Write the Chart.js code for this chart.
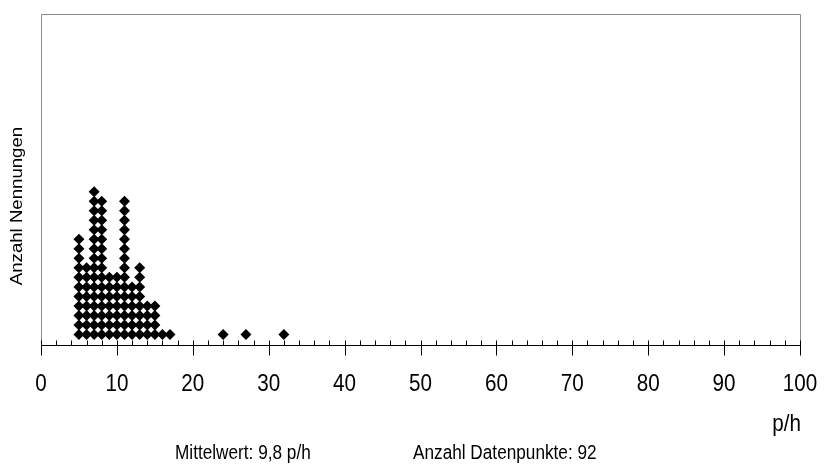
<!DOCTYPE html>
<html>
<head>
<meta charset="utf-8">
<script src="https://cdn.jsdelivr.net/npm/chart.js@4.4.1/dist/chart.umd.min.js"></script>
<style>
  html, body { margin: 0; padding: 0; background: #ffffff; }
  #wrap { width: 827px; height: 464px; }
</style>
</head>
<body>
<div id="wrap"><canvas id="chart" width="827" height="464"></canvas></div>
<script>
// Rate categories (p/h) and how many answers fall into each one
const rateValues    = [5, 6, 7, 8, 9, 10, 11, 12, 13, 14, 15, 16, 17, 24, 27, 32];
const mentionCounts = [11, 8, 16, 15, 7, 7, 15, 6, 8, 4, 4, 1, 1, 1, 1, 1];

// Labelled ticks on the rate axis
const xTickLabels = [0, 10, 20, 30, 40, 50, 60, 70, 80, 90, 100];

// Texts
const yAxisTitle   = 'Anzahl Nennungen';
const xAxisUnit    = 'p/h';
const meanText     = 'Mittelwert: 9,8 p/h';
const countText    = 'Anzahl Datenpunkte: 92';

const FONT = '"Liberation Sans", Arial, sans-serif';
const NARROW = 0.86;   // glyph width factor for the condensed lettering

// One stacked diamond per answer: y = position in the stack
const stackedPoints = [];
rateValues.forEach((rate, i) => {
  for (let k = 1; k <= mentionCounts[i]; k++) {
    stackedPoints.push({ x: rate, y: k });
  }
});

function narrowText(ctx, text, x, y, size, align, angle) {
  ctx.save();
  ctx.font = size + 'px ' + FONT;
  ctx.textAlign = align;
  ctx.textBaseline = 'middle';
  ctx.translate(x, y);
  if (angle) {
    ctx.rotate(angle);
    ctx.scale(1 / NARROW, 1);
  } else {
    ctx.scale(NARROW, 1);
  }
  ctx.fillText(text, 0, 0);
  ctx.restore();
}

// Frame, axis line, tick marks and texts
const frameAndText = {
  id: 'frameAndText',
  beforeDatasetsDraw(chart) {
    const { ctx, chartArea: a } = chart;
    const xs = chart.scales.x;
    const left = Math.round(a.left) + 0.5;
    const right = Math.round(a.right) + 0.5;
    const top = Math.round(a.top) + 0.5;
    const axisY = Math.round(a.bottom) + 0.5;
    ctx.save();
    ctx.strokeStyle = '#8c8c8c';
    ctx.lineWidth = 1;
    ctx.beginPath();
    ctx.moveTo(left, axisY);
    ctx.lineTo(left, top);
    ctx.lineTo(right, top);
    ctx.lineTo(right, axisY);
    ctx.stroke();

    ctx.strokeStyle = '#000000';
    ctx.beginPath();
    ctx.moveTo(left, axisY);
    ctx.lineTo(right, axisY);
    xs.ticks.forEach(t => {
      const px = Math.round(xs.getPixelForValue(t.value)) + 0.5;
      const major = xTickLabels.includes(t.value);
      ctx.moveTo(px, axisY - 5);
      ctx.lineTo(px, major ? axisY + 10 : axisY);
    });
    ctx.stroke();
    ctx.restore();
  },
  afterDraw(chart) {
    const { ctx, chartArea: a } = chart;
    const xs = chart.scales.x;
    ctx.save();
    ctx.fillStyle = '#000000';
    xTickLabels.forEach(v => {
      narrowText(ctx, String(v), xs.getPixelForValue(v), a.bottom + 39, 24, 'center');
    });
    narrowText(ctx, xAxisUnit, 801, 424, 24, 'right');
    narrowText(ctx, yAxisTitle, 18, 206, 16, 'center', -Math.PI / 2);
    narrowText(ctx, meanText, 175, 453, 20, 'left');
    narrowText(ctx, countText, 413, 453, 20, 'left');
    ctx.restore();
  }
};

new Chart(document.getElementById('chart'), {
  type: 'scatter',
  data: {
    datasets: [{
      data: stackedPoints,
      pointStyle: 'rectRot',
      pointRadius: 5.5,
      pointHoverRadius: 5.5,
      borderWidth: 0,
      backgroundColor: '#000000',
      borderColor: '#000000'
    }]
  },
  options: {
    responsive: false,
    animation: false,
    devicePixelRatio: 1,
    layout: { padding: { left: 41, right: 27, top: 14, bottom: 119 } },
    plugins: { legend: { display: false }, tooltip: { enabled: false } },
    scales: {
      x: {
        type: 'linear',
        min: 0,
        max: 100,
        grid: { display: false, drawTicks: false },
        border: { display: false },
        ticks: {
          display: false,
          stepSize: 2,
          autoSkip: false,
          maxRotation: 0
        }
      },
      y: {
        display: false,
        min: -0.1,
        max: 34.65
      }
    }
  },
  plugins: [frameAndText]
});
</script>
</body>
</html>
